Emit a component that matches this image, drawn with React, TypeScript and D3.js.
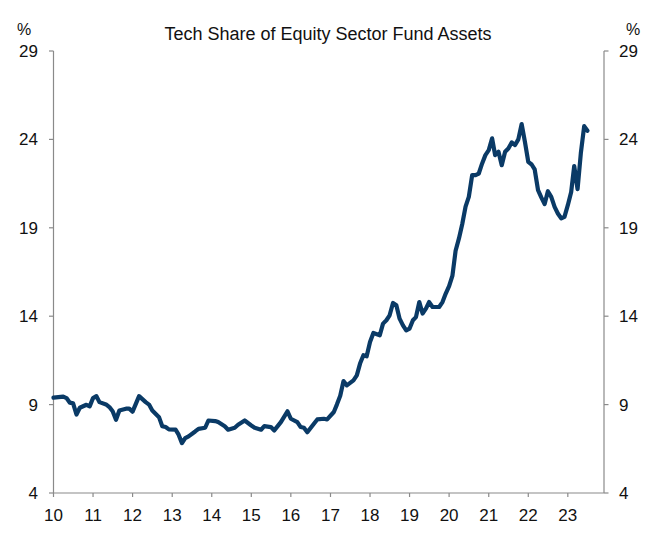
import React from "react";
import * as d3 from "d3";

const TITLE = "Tech Share of Equity Sector Fund Assets";
const UNIT = "%";
const yTicks = [4, 9, 14, 19, 24, 29];
const xTickYears = [2010, 2011, 2012, 2013, 2014, 2015, 2016, 2017, 2018, 2019, 2020, 2021, 2022, 2023];

const dates = [
  "2010-01","2010-04","2010-05","2010-06","2010-07","2010-08","2010-09","2010-11","2010-12",
  "2011-01","2011-02","2011-03","2011-05","2011-06","2011-07","2011-08","2011-09","2011-11","2011-12",
  "2012-01","2012-03","2012-05","2012-06","2012-07","2012-09","2012-10","2012-11","2012-12",
  "2013-02","2013-03","2013-04","2013-05","2013-06","2013-08","2013-09","2013-11","2013-12",
  "2014-02","2014-03","2014-05","2014-06","2014-08","2014-09","2014-11",
  "2015-01","2015-02","2015-04","2015-05","2015-07","2015-08","2015-10","2015-12",
  "2016-01","2016-03","2016-04","2016-05","2016-06","2016-08","2016-09","2016-11","2016-12",
  "2017-02","2017-03","2017-04","2017-05","2017-06","2017-08","2017-09","2017-10","2017-11","2017-12",
  "2018-01","2018-02","2018-04","2018-05","2018-06","2018-07","2018-08","2018-09","2018-10","2018-11","2018-12",
  "2019-01","2019-02","2019-03","2019-04","2019-05","2019-06","2019-07","2019-08","2019-10","2019-11","2019-12",
  "2020-01","2020-02","2020-03","2020-04","2020-05","2020-06","2020-07","2020-08","2020-09","2020-10","2020-11","2020-12",
  "2021-01","2021-02","2021-03","2021-04","2021-05","2021-06","2021-07","2021-08","2021-09","2021-10","2021-11","2021-12",
  "2022-01","2022-02","2022-03","2022-04","2022-05","2022-06","2022-07","2022-08","2022-09","2022-10","2022-11","2022-12",
  "2023-01","2023-02","2023-03","2023-04","2023-05","2023-06","2023-07",
];

const techShare = [
  9.39, 9.45, 9.37, 9.11, 9.07, 8.44, 8.82, 8.99, 8.9,
  9.37, 9.48, 9.14, 9.01, 8.86, 8.62, 8.14, 8.67, 8.77, 8.77,
  8.6, 9.48, 9.14, 9.0, 8.67, 8.29, 7.78, 7.73, 7.6,
  7.58, 7.3, 6.82, 7.1, 7.2, 7.48, 7.63, 7.69, 8.1,
  8.07, 8.01, 7.77, 7.58, 7.69, 7.86, 8.1,
  7.82, 7.69, 7.58, 7.78, 7.73, 7.54, 8.01, 8.62,
  8.2, 8.01, 7.73, 7.69, 7.44, 7.92, 8.16, 8.2, 8.16,
  8.58, 9.0, 9.5, 10.33, 10.09, 10.37, 10.65, 11.32, 11.79, 11.73,
  12.54, 13.05, 12.92, 13.58, 13.77, 14.05, 14.75, 14.62, 13.86, 13.48, 13.2,
  13.3, 13.77, 13.95, 14.8, 14.15, 14.43, 14.8, 14.52, 14.52, 14.8, 15.28,
  15.7, 16.3, 17.7, 18.4, 19.2, 20.2, 20.75, 21.98, 21.98, 22.07, 22.64, 23.11,
  23.39, 24.06, 23.11, 23.3, 22.54, 23.3, 23.49, 23.83, 23.68, 24.0, 24.87, 23.86,
  22.73, 22.58, 22.3, 21.13, 20.72, 20.34, 21.07, 20.75, 20.18, 19.81, 19.53, 19.62,
  20.28, 21.03, 22.49, 21.19, 23.21, 24.75, 24.49,
];

const parse = d3.timeParse("%Y-%m");

export default function App() {
  const W = 655, H = 541;
  const left = 53.5, right = 604, top = 51, bottom = 493;
  const font = "'Liberation Sans', Arial, sans-serif";
  const axisColor = "#8a8a8a";

  const x = d3.scaleTime()
    .domain([new Date(2010, 0, 1), new Date(2023, 11, 1)])
    .range([left, right]);
  const y = d3.scaleLinear().domain([4, 29]).range([bottom, top]);

  const data = dates.map((d, i) => ({ date: parse(d) as Date, v: techShare[i] }));
  const line = d3.line<{ date: Date; v: number }>()
    .x((d) => x(d.date))
    .y((d) => y(d.v));

  return (
    <div style={{ position: "fixed", left: 0, top: 0 }}>
      <svg width={W} height={H} style={{ display: "block", background: "#fff" }}>
        <text x={328} y={40} textAnchor="middle" fontFamily={font} fontSize={18} fill="#111">
          {TITLE}
        </text>
        <text x={24} y={35} textAnchor="middle" fontFamily={font} fontSize={16} fill="#111">{UNIT}</text>
        <text x={633} y={35} textAnchor="middle" fontFamily={font} fontSize={16} fill="#111">{UNIT}</text>

        <line x1={left} x2={left} y1={top} y2={bottom} stroke={axisColor} strokeWidth={1.2} />
        <line x1={right} x2={right} y1={top} y2={bottom} stroke={axisColor} strokeWidth={1.2} />
        <line x1={left} x2={right} y1={bottom} y2={bottom} stroke={axisColor} strokeWidth={1.2} />

        {yTicks.map((t) => (
          <g key={"y" + t}>
            <line x1={left - 4.5} x2={left} y1={y(t)} y2={y(t)} stroke={axisColor} strokeWidth={1.2} />
            <line x1={right} x2={right + 4.5} y1={y(t)} y2={y(t)} stroke={axisColor} strokeWidth={1.2} />
            <text x={38} y={y(t)} dy="0.35em" textAnchor="end" fontFamily={font} fontSize={17} fill="#111">{t}</text>
            <text x={619} y={y(t)} dy="0.35em" textAnchor="start" fontFamily={font} fontSize={17} fill="#111">{t}</text>
          </g>
        ))}

        {xTickYears.map((yr) => {
          const px = x(new Date(yr, 0, 1));
          return (
            <g key={"x" + yr}>
              <line x1={px} x2={px} y1={bottom} y2={bottom + 4} stroke={axisColor} strokeWidth={1.2} />
              <text x={px} y={521} textAnchor="middle" fontFamily={font} fontSize={17} fill="#111">
                {String(yr % 100).padStart(2, "0")}
              </text>
            </g>
          );
        })}

        <path d={line(data) || ""} fill="none" stroke="#0a3a66" strokeWidth={4.2} strokeLinejoin="round" strokeLinecap="round" />
      </svg>
    </div>
  );
}
